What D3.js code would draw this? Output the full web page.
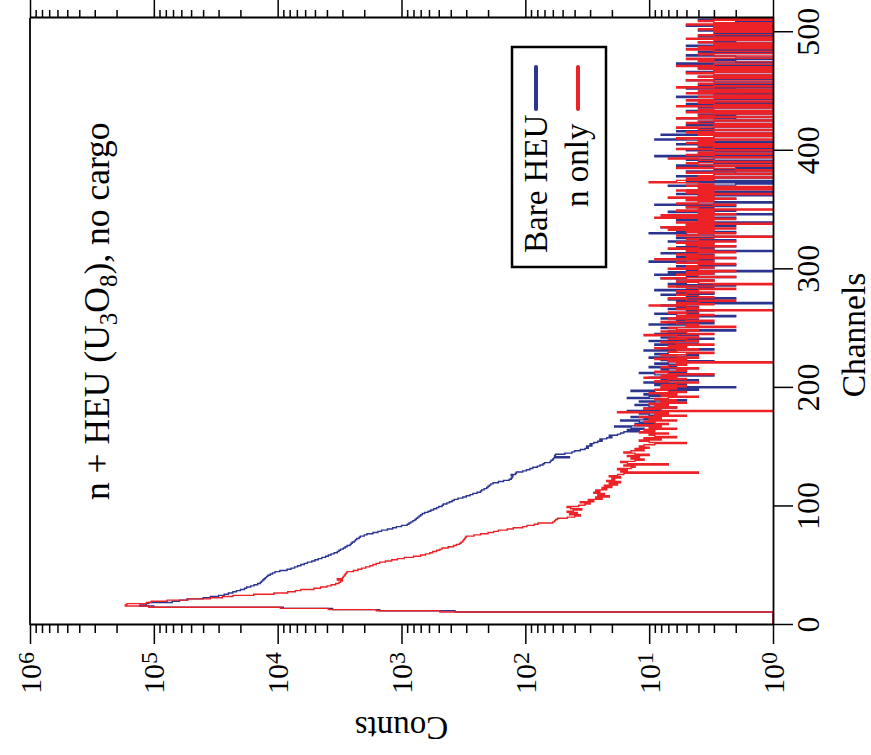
<!DOCTYPE html>
<html>
<head>
<meta charset="utf-8">
<style>
  body { margin: 0; background: #fff; }
  text { font-family: "Liberation Serif", "Times New Roman", serif; fill: #000; }
</style>
</head>
<body>
<script src="https://d3js.org/d3.v7.min.js"></script>
<script>
const W = 871, H = 755;

const channelTicks = [0, 100, 200, 300, 400, 500];
const countDecades = [0, 1, 2, 3, 4, 5, 6];
const seriesNames = ["Bare HEU", "n only"];
const seriesColors = ["#2b3590", "#ec2227"];
const titleParts = ["n + HEU (U", "3", "O", "8", "), no cargo"];

// counts per channel (channel 0 first)
const bareHead = [
  0, 0, 0, 0, 0, 0, 0, 0, 0, 0, 0, 370, 1500, 3600, 9000, 100000, 130000, 115000, 110000, 71000,
  62000, 54000, 40000, 35000, 30000, 27000, 25000, 23000, 21500, 20000, 18500, 17800, 16500, 15500, 14500, 13800, 13500, 13200, 12900, 12600,
  12300, 12000, 11500, 11000, 10500, 9600, 8400, 7800, 7300, 6900, 6500, 6100, 5750, 5300, 5000, 4700, 4400, 4100, 3900, 3700,
  3500, 3300, 3200, 3100, 2950, 2850, 2750, 2600, 2550, 2500, 2400, 2350, 2300, 2200, 2150, 2000, 1900, 1700, 1550, 1450,
  1300, 1180, 1100, 1000, 900, 870, 840, 810, 780, 760, 740, 720, 700, 680, 650, 610, 580, 550, 520, 500
];
const bareMid = [
  470, 460, 430, 410, 390, 375, 350, 320, 300, 280, 265, 245, 230, 225, 215, 205, 200, 195, 190, 182,
  165, 150, 135, 130, 128, 126, 130, 120, 118, 105, 98, 92, 87, 80, 76, 72, 70, 63, 62, 60,
  59, 44, 58, 57, 48, 42, 40, 36, 33, 31, 32, 29, 30, 28, 26, 24, 25, 22, 20, 21,
  18, 17, 16, 12, 15, 11, 14, 19, 10, 13, 9, 12, 17, 8, 11, 14, 7, 10, 12, 9,
  15, 8, 11, 6, 10, 13, 7, 9, 12, 5, 8, 15, 10, 7, 11, 6, 9, 14, 4, 8
];
const bareTail = [
  2, 6, 9, 5, 11, 7, 4, 8, 10, 6, 3, 9, 12, 5, 7, 8, 4, 10, 6, 5, 9,
  7, 3, 8, 6, 10, 5, 4, 9, 7, 6, 11, 3, 8, 5, 6, 9, 4, 7, 10, 5,
  3, 8, 6, 4, 9, 5, 7, 2, 6, 8, 4, 5, 10, 3, 7, 6, 4, 8, 5, 2,
  6, 9, 4, 5, 3, 7, 6, 4, 8, 5, 1, 6, 3, 7, 2, 5, 4, 8, 3, 6,
  5, 9, 4, 3, 6, 2, 7, 5, 4, 3, 6, 8, 2, 5, 9, 3, 7, 1, 5, 4,
  3, 6, 2, 4, 5, 10, 3, 4, 2, 6, 5, 3, 8, 4, 1, 5, 3, 6, 2, 4,
  5, 3, 7, 2, 4, 6, 1, 3, 5, 10, 2, 6, 3, 4, 8, 2, 5, 3, 1, 4,
  6, 3, 2, 5, 4, 1, 3, 7, 2, 4, 3, 5, 2, 9, 3, 1, 4, 5, 2, 3,
  4, 1, 6, 3, 1, 5, 3, 1, 4, 7, 2, 1, 5, 1, 4, 3, 1, 6, 3, 1,
  2, 5, 1, 3, 0, 2, 6, 3, 1, 4, 1, 5, 3, 1, 9, 1, 4, 3, 1, 5,
  3, 1, 4, 1, 6, 3, 0, 4, 9, 5, 3, 1, 8, 1, 3, 6, 1, 4, 3, 1,
  5, 1, 3, 4, 1, 2, 6, 1, 2, 4, 1, 3, 5, 0, 1, 4, 3, 1, 5, 1,
  3, 4, 1, 1, 6, 3, 1, 4, 1, 3, 2, 5, 1, 3, 4, 1, 0, 3, 5, 1,
  1, 4, 3, 1, 1, 5, 2, 3, 4, 1, 0, 3, 6, 1, 2, 4, 1, 1, 2, 5,
  3, 1, 4, 1, 3, 1, 2, 5, 1, 1, 4, 2, 1, 3, 1, 4, 1, 3, 0, 1,
  4, 1, 3, 1, 5, 2, 1, 1, 2, 4, 1, 3
];

const nHead = [
  0, 0, 0, 0, 0, 0, 0, 0, 0, 0, 0, 490, 1600, 3900, 9500, 110000, 170000, 165000, 115000, 105000,
  78000, 53000, 35000, 28000, 23000, 15600, 10700, 8300, 7200, 6500, 5100, 4500, 4000, 3700, 3400, 3200, 3100, 3000, 3300, 3000,
  2950, 2900, 2850, 2800, 2750, 2450, 2250, 2100, 1950, 1800, 1700, 1600, 1500, 1350, 1200, 1080, 950, 800, 700, 640,
  590, 560, 520, 490, 470, 420, 380, 360, 340, 330, 320, 315, 310, 305, 300, 260, 230, 200, 180, 165,
  140, 125, 105, 97, 85, 79, 60, 58, 57, 55, 46, 40, 36, 44, 38, 46, 41, 35, 43, 46
];
const nMid = [
  37, 33, 30, 36, 28, 31, 24, 27, 21, 26, 23, 28, 25, 27, 22, 24, 20, 23, 18, 21,
  17, 22, 19, 20, 17, 21, 18, 16, 4, 17, 15, 18, 14, 13, 16, 7, 15, 17, 13, 11,
  14, 12, 15, 10, 13, 16, 14, 11, 13, 10, 12, 11, 9, 5, 10, 12, 8, 11, 6, 9,
  10, 7, 12, 9, 11, 6, 10, 8, 13, 7, 9, 11, 6, 10, 8, 12, 5, 9, 7, 18,
  1, 8, 11, 6, 9, 7, 10, 5, 8, 6, 9, 7, 4, 8, 6, 10, 5, 7, 9, 6
];
const nTail = [
  8, 5, 8, 6, 4, 9, 7, 5, 11, 6, 8, 3, 7, 9, 5, 6, 4, 8, 7, 5, 6,
  1, 7, 5, 9, 4, 6, 8, 5, 3, 7, 6, 4, 9, 5, 7, 3, 6, 8, 4, 5,
  7, 4, 6, 11, 3, 5, 8, 4, 6, 7, 2, 5, 4, 6, 8, 3, 5, 7, 4, 6,
  3, 5, 7, 4, 1, 6, 4, 5, 10, 3, 6, 4, 2, 5, 7, 3, 4, 6, 5, 3,
  6, 4, 2, 5, 7, 3, 1, 4, 6, 3, 5, 8, 2, 4, 6, 3, 5, 2, 4, 7,
  3, 5, 4, 2, 6, 3, 4, 9, 2, 5, 3, 6, 4, 2, 5, 3, 7, 4, 2, 5,
  3, 6, 2, 4, 5, 3, 1, 6, 4, 2, 5, 3, 7, 2, 8, 3, 5, 1, 6, 3,
  4, 2, 9, 3, 8, 2, 4, 3, 6, 1, 4, 5, 3, 2, 6, 4, 3, 5, 2, 7,
  3, 4, 1, 5, 3, 6, 1, 4, 1, 5, 3, 4, 10, 6, 3, 5, 1, 4, 3, 1,
  5, 3, 1, 2, 6, 3, 1, 4, 5, 1, 3, 4, 7, 1, 3, 5, 1, 4, 3, 1,
  6, 3, 1, 4, 1, 5, 3, 4, 1, 6, 3, 1, 4, 0, 5, 3, 1, 4, 6, 1,
  3, 1, 5, 4, 1, 3, 6, 1, 4, 3, 1, 5, 1, 4, 3, 0, 6, 1, 3, 4,
  1, 5, 3, 1, 4, 1, 3, 5, 1, 4, 1, 3, 6, 1, 3, 4, 1, 0, 5, 3,
  1, 4, 1, 3, 5, 1, 3, 1, 4, 1, 6, 3, 1, 1, 4, 3, 5, 1, 0, 3,
  4, 1, 1, 3, 5, 1, 4, 1, 3, 1, 4, 3, 1, 5, 1, 3, 4, 1, 1, 3,
  1, 4, 1, 3, 1, 5, 1, 3, 4, 1, 3, 1
];

const bareHEU = bareHead.concat(bareMid, bareTail);
const nOnly = nHead.concat(nMid, nTail);
const series = [bareHEU, nOnly];

const svg = d3.select("body").append("svg").attr("width", W).attr("height", H);

// the whole chart is drawn upright and then turned a quarter turn to the left
const g = svg.append("g").attr("transform", `translate(0,${H}) rotate(-90)`);

const pL = 130, pR = 737, pT = 30, pB = 773;
const x = d3.scaleLinear().domain([0, 512]).range([pL, pR]);
const y = d3.scaleLog().domain([1, 1e6]).range([pB, pT]).clamp(true);

g.append("clipPath").attr("id", "plot")
  .append("rect").attr("x", pL).attr("y", pT).attr("width", pR - pL).attr("height", pB - pT);

const line = d3.line()
  .x((d, i) => x(i))
  .y(d => y(Math.max(d, 1)))
  .curve(d3.curveStepAfter);

const plot = g.append("g").attr("clip-path", "url(#plot)");
series.forEach((s, k) => {
  plot.append("path")
    .datum(s.concat([s[s.length - 1]]))
    .attr("d", line)
    .attr("fill", "none")
    .attr("stroke", seriesColors[k])
    .attr("stroke-width", 1.4);
});

// frame
g.append("line").attr("x1", pL).attr("x2", pR).attr("y1", pT).attr("y2", pT)
  .attr("stroke", "#000").attr("stroke-width", 1.8);

const majors = countDecades.map(e => Math.pow(10, e));
const minors = y.ticks().filter(v => !majors.includes(v));

function styleAxis(a) {
  a.select(".domain").attr("stroke-width", 1.8);
  a.selectAll(".tick line").attr("stroke-width", 1.5);
}

// channels axis
g.append("g").attr("transform", `translate(0,${pB})`)
  .call(d3.axisBottom(x).tickValues(channelTicks).tickSize(20).tickSizeOuter(0).tickPadding(3))
  .call(styleAxis)
  .call(a => a.selectAll("text").attr("font-size", 32).attr("font-family", "Liberation Serif"));

// counts axes, left with labels and right without
[[pL, d3.axisLeft], [pR, d3.axisRight]].forEach(([pos, ax]) => {
  g.append("g").attr("transform", `translate(${pos},0)`)
    .call(ax(y).tickValues(majors).tickSize(19).tickSizeOuter(0).tickFormat(""))
    .call(styleAxis);
  g.append("g").attr("transform", `translate(${pos},0)`)
    .call(ax(y).tickValues(minors).tickSize(8).tickSizeOuter(0).tickFormat(""))
    .call(a => a.select(".domain").remove())
    .call(a => a.selectAll(".tick line").attr("stroke-width", 1.5));
});

countDecades.forEach(e => {
  const t = g.append("text")
    .attr("x", pL - 27).attr("y", y(Math.pow(10, e)))
    .attr("dy", "0.35em").attr("text-anchor", "end").attr("font-size", 30);
  t.append("tspan").text("10");
  t.append("tspan").attr("font-size", 24).attr("dy", -7).text(e);
});

// axis titles
g.append("text").attr("x", 420).attr("y", 865).attr("text-anchor", "middle")
  .attr("font-size", 33.5).text("Channels");
g.append("text").attr("transform", `translate(38,${(pT + pB) / 2}) rotate(-90)`)
  .attr("text-anchor", "middle").attr("font-size", 33).text("Counts");

// title
const title = g.append("text").attr("x", 255).attr("y", 109).attr("font-size", 35.5);
title.append("tspan").text(titleParts[0]);
title.append("tspan").attr("font-size", 25).attr("dy", 8).text(titleParts[1]);
title.append("tspan").attr("dy", -8).text(titleParts[2]);
title.append("tspan").attr("font-size", 25).attr("dy", 8).text(titleParts[3]);
title.append("tspan").attr("dy", -8).text(titleParts[4]);

// legend
const lg = g.append("g");
lg.append("rect").attr("x", 488).attr("y", 512).attr("width", 220).attr("height", 94)
  .attr("fill", "#fff").attr("stroke", "#000").attr("stroke-width", 2.5);
const legendRows = [{ tx: 502, ty: 547, ly: 536 }, { tx: 548, ty: 588, ly: 578 }];
legendRows.forEach((r, k) => {
  lg.append("text").attr("x", r.tx).attr("y", r.ty).attr("font-size", 33).text(seriesNames[k]);
  lg.append("line").attr("x1", 646).attr("x2", 688).attr("y1", r.ly).attr("y2", r.ly)
    .attr("stroke", seriesColors[k]).attr("stroke-width", 4).attr("stroke-linecap", "round");
});
</script>
</body>
</html>
